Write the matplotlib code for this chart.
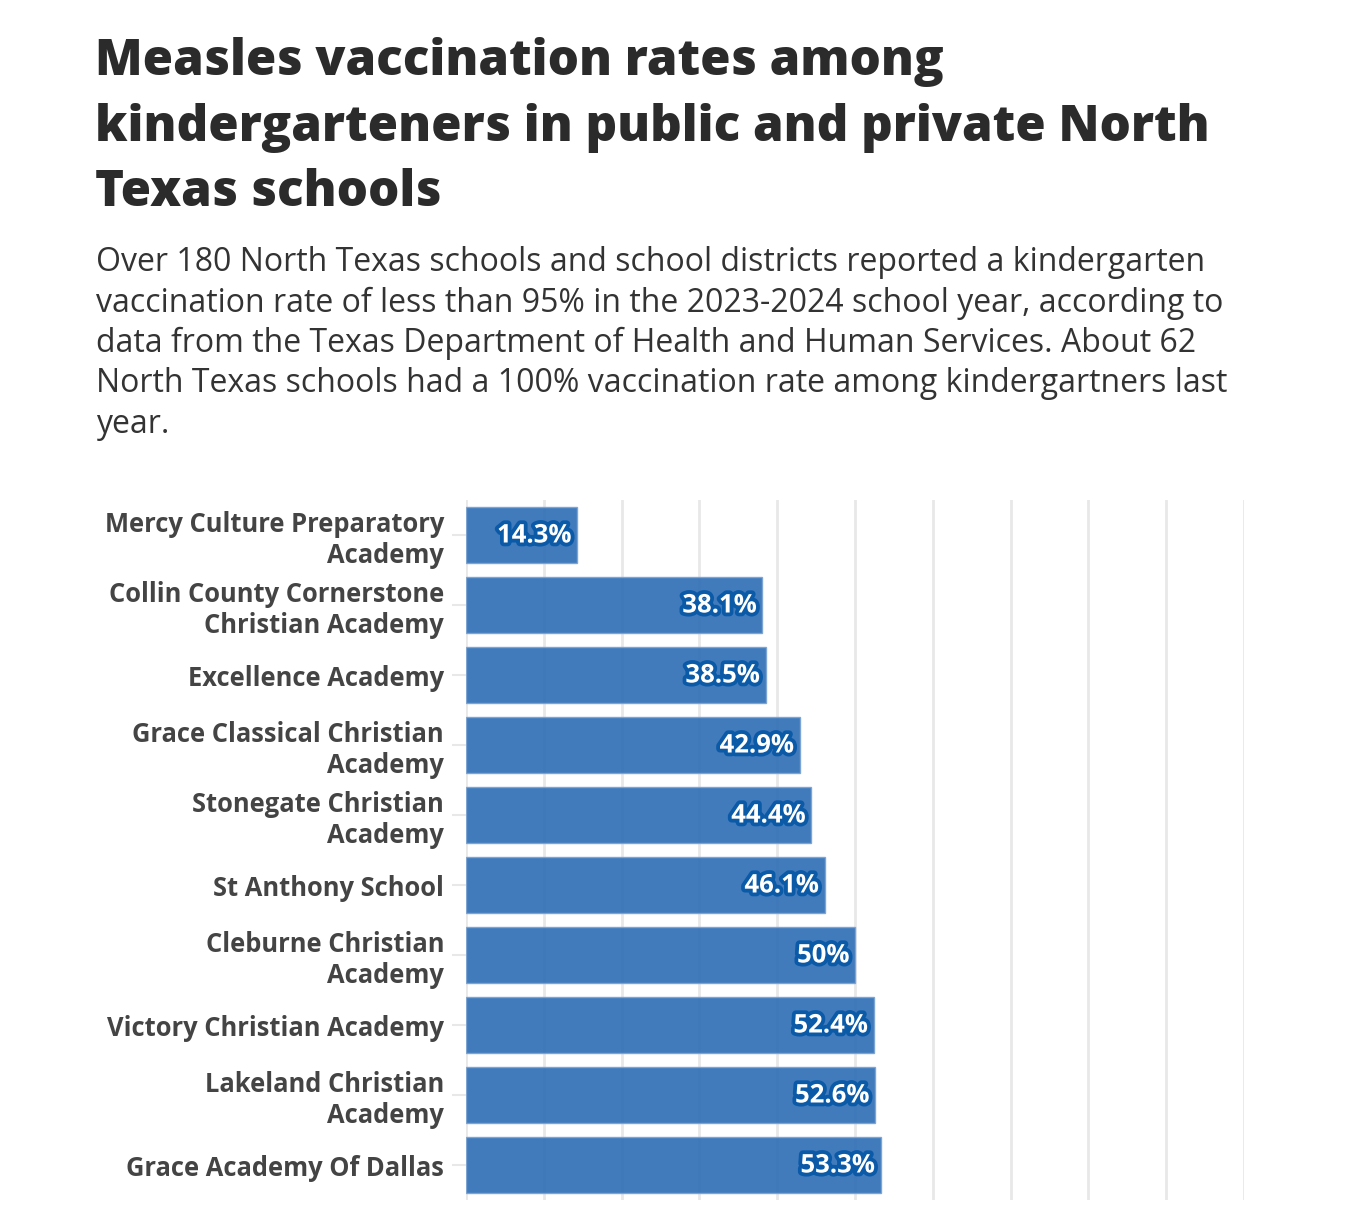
import matplotlib.pyplot as plt
import matplotlib.patheffects as pe

# Data
schools = [
    "Mercy Culture Preparatory\nAcademy",
    "Collin County Cornerstone\nChristian Academy",
    "Excellence Academy",
    "Grace Classical Christian\nAcademy",
    "Stonegate Christian\nAcademy",
    "St Anthony School",
    "Cleburne Christian\nAcademy",
    "Victory Christian Academy",
    "Lakeland Christian\nAcademy",
    "Grace Academy Of Dallas",
]
rates = [14.3, 38.1, 38.5, 42.9, 44.4, 46.1, 50.0, 52.4, 52.6, 53.3]
rate_labels = ["14.3%", "38.1%", "38.5%", "42.9%", "44.4%", "46.1%", "50%", "52.4%", "52.6%", "53.3%"]

title = "Measles vaccination rates among\nkindergarteners in public and private North\nTexas schools"
subtitle = ("Over 180 North Texas schools and school districts reported a kindergarten\n"
            "vaccination rate of less than 95% in the 2023-2024 school year, according to\n"
            "data from the Texas Department of Health and Human Services. About 62\n"
            "North Texas schools had a 100% vaccination rate among kindergartners last\n"
            "year.")

plt.rcParams['font.family'] = ['Open Sans', 'DejaVu Sans']

W, H = 1370, 1206
fig = plt.figure(figsize=(W / 100, H / 100), dpi=100)
fig.patch.set_facecolor('white')

# Title and subtitle
fig.text(95 / W, 1 - 37 / H, title, fontsize=35.5, fontweight=800, color='#2b2b2b',
         va='top', ha='left', linespacing=1.41)
fig.text(96 / W, 1 - 246 / H, subtitle, fontsize=23, color='#333333',
         va='top', ha='left', linespacing=1.29)

# Chart area
ax = fig.add_axes([466 / W, 6 / H, 778 / W, 700 / H])
y = list(range(len(schools)))
ax.barh(y, rates, height=0.8, color='#2d6db5', alpha=0.9, edgecolor='#7aa3d4',
        linewidth=1, zorder=2)

for yi, v, lab in zip(y, rates, rate_labels):
    ax.text(v - 0.7, yi, lab, ha='right', va='center', fontsize=18.5, fontweight='bold',
            color='white', zorder=4,
            path_effects=[pe.withStroke(linewidth=5.5, foreground='#0b5aa8')])

ax.set_xlim(0, 100)
ax.set_ylim(9.5, -0.5)
ax.set_xticks(range(0, 101, 10))
ax.xaxis.grid(True, color='#e8e8e8', linewidth=2, zorder=0)
ax.set_axisbelow(True)
ax.tick_params(axis='x', length=0, labelbottom=False)
ax.set_yticks(y)
ax.set_yticklabels(schools, fontsize=18.4, fontweight='bold', color='#444444',
                   linespacing=1.18)
ax.tick_params(axis='y', length=10, width=1.5, color='#e8e8e8', pad=5.8)
for s in ax.spines.values():
    s.set_visible(False)

fig.savefig('out.png', dpi=100, facecolor='white')
